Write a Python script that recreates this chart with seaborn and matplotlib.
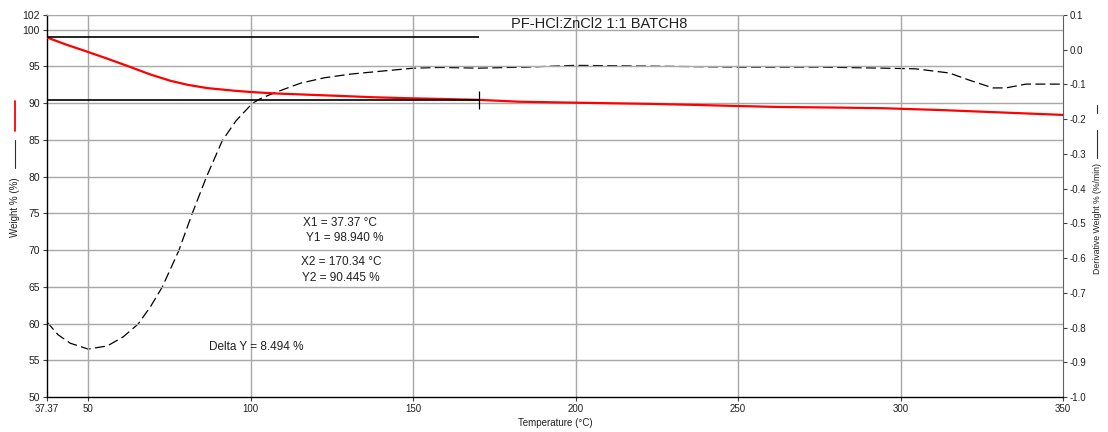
import numpy as np
import pandas as pd
import seaborn as sns
import matplotlib
matplotlib.use("Agg")
import matplotlib.pyplot as plt
from matplotlib.lines import Line2D

# TGA run: weight loss and its derivative against temperature
temp_w = [37.37, 43.4, 50, 56.8, 63, 69.2, 75.3, 80.6, 86.7, 94.8, 100, 107.1, 117.6, 127.8,
          138, 148.5, 158.7, 170.34, 182.4, 195, 223, 237, 249, 262.7, 280, 294.5, 311.8, 325, 350]
weight = [98.94, 97.95, 96.97, 95.92, 94.92, 93.9, 93.05, 92.5, 92.05, 91.7, 91.52, 91.33, 91.15,
          90.98, 90.8, 90.67, 90.57, 90.445, 90.2, 90.1, 89.9, 89.76, 89.62, 89.48, 89.4, 89.31,
          89.07, 88.84, 88.4]

temp_d = [37.37, 40.8, 44.5, 50, 55.9, 60.8, 65.4, 69.2, 72.8, 77.9, 82.0, 86.4, 91.3, 95.5,
          100.5, 103, 107.1, 111.4, 115.5, 122.6, 130.9, 141.1, 150.3, 158.7, 170, 185, 200, 220,
          250, 275, 294.5, 304.6, 315, 321, 328.4, 332.4, 338.6, 344, 350]
deriv = [-0.784, -0.821, -0.845, -0.862, -0.853, -0.827, -0.79, -0.74, -0.684, -0.579, -0.473,
         -0.367, -0.262, -0.205, -0.155, -0.141, -0.125, -0.11, -0.096, -0.081, -0.07, -0.061,
         -0.053, -0.051, -0.053, -0.05, -0.045, -0.047, -0.05, -0.05, -0.053, -0.055, -0.067,
         -0.087, -0.11, -0.11, -0.099, -0.099, -0.099]

# Step-analysis markers
X1, Y1 = 37.37, 98.940
X2, Y2 = 170.34, 90.445
DELTA_Y = 8.494

x_ticks = [37.37, 50, 100, 150, 200, 250, 300, 350]
x_tick_labels = ["37.37", "50", "100", "150", "200", "250", "300", "350"]
y_ticks = [50, 55, 60, 65, 70, 75, 80, 85, 90, 95, 100, 102]
d_ticks = [-1.0, -0.9, -0.8, -0.7, -0.6, -0.5, -0.4, -0.3, -0.2, -0.1, 0.0, 0.1]

sns.set_style("white")
plt.rcParams["font.family"] = ["Liberation Sans", "DejaVu Sans"]
plt.rcParams["axes.unicode_minus"] = False

W, H = 1108, 432
fig = plt.figure(figsize=(W / 100, H / 100), dpi=100)
L, R, T, B = 47, 1063, 15, 397
ax = fig.add_axes([L / W, 1 - B / H, (R - L) / W, (B - T) / H])
ax2 = ax.twinx()

grid_c = "#a8a8a8"
ax.set_xlim(37.37, 350)
ax.set_ylim(50, 102)
ax2.set_ylim(-1.0, 0.1)

for gx in [50, 100, 150, 200, 250, 300]:
    ax.axvline(gx, color=grid_c, lw=1.0, zorder=0)
for gy in y_ticks[1:]:
    ax.axhline(gy, color=grid_c, lw=1.0, zorder=0)

df_w = pd.DataFrame({"Temperature": temp_w, "Weight": weight})
df_d = pd.DataFrame({"Temperature": temp_d, "Deriv": deriv})

sns.lineplot(data=df_d, x="Temperature", y="Deriv", ax=ax2, color="black", lw=0.9,
             dashes=False, zorder=3)
ax2.lines[-1].set_dashes((8, 3.5))
sns.lineplot(data=df_w, x="Temperature", y="Weight", ax=ax, color="#ff0000", lw=1.6, zorder=4)

ax.hlines([Y1, Y2], X1, X2, color="black", lw=1.2, zorder=5)
ax.vlines(X2, Y2 - 1.25, Y2 + 1.25, color="black", lw=0.9, zorder=5)

ax.set_zorder(ax2.get_zorder() + 1)
ax.patch.set_visible(False)

ax.set_xticks(x_ticks)
ax.set_xticklabels(x_tick_labels)
ax.set_yticks(y_ticks)
ax.set_yticklabels([str(v) for v in y_ticks])
ax2.set_yticks(d_ticks)
ax2.set_yticklabels([f"{v:.1f}" for v in d_ticks])

for a in (ax, ax2):
    a.tick_params(labelsize=7, length=3, width=0.8, color="#404040", pad=2, labelcolor="#202020")
    a.set_xlabel("")
    a.set_ylabel("")
ax.tick_params(axis="y", labelsize=7.5)
ax.tick_params(axis="x", bottom=True)
ax.tick_params(axis="y", left=True)
ax2.tick_params(axis="y", right=True)

for s in ["left", "bottom"]:
    ax.spines[s].set_color("black")
    ax.spines[s].set_linewidth(1.0)
ax.spines["top"].set_color(grid_c)
ax.spines["right"].set_visible(False)
ax2.spines["right"].set_color("#606060")
for s in ["left", "top", "bottom"]:
    ax2.spines[s].set_visible(False)

def fx(px):
    return px / W

def fy(py):
    return 1 - py / H

fig.text(fx(599), fy(23.5), "PF-HCl:ZnCl2 1:1 BATCH8", fontsize=10.5, ha="center", va="center",
         color="#202020")
fig.text(fx(555), fy(423), "Temperature (°C)", fontsize=7, ha="center", va="center", color="#202020")

txt_kw = dict(fontsize=8.5, va="center", color="#202020")
fig.text(fx(303), fy(223), f"X1 = {X1:.2f} °C", ha="left", **txt_kw)
fig.text(fx(306), fy(238), f"Y1 = {Y1:.3f} %", ha="left", **txt_kw)
fig.text(fx(301), fy(262), f"X2 = {X2:.2f} °C", ha="left", **txt_kw)
fig.text(fx(302), fy(278), f"Y2 = {Y2:.3f} %", ha="left", **txt_kw)
fig.text(fx(209), fy(347), f"Delta Y = {DELTA_Y:.3f} %", ha="left", **txt_kw)

# Axis titles with their line keys
fig.text(fx(15), fy(207), "Weight % (%)", fontsize=7, rotation=90, ha="center", va="center",
         color="#202020")
fig.add_artist(Line2D([fx(15), fx(15)], [fy(140), fy(168)], color="#303030", lw=0.8))
fig.add_artist(Line2D([fx(15), fx(15)], [fy(101), fy(131)], color="#ff0000", lw=1.3))

fig.text(fx(1097), fy(218), "Derivative Weight % (%/min)", fontsize=6.3, rotation=90,
         ha="center", va="center", color="#202020")
fig.add_artist(Line2D([fx(1097), fx(1097)], [fy(130), fy(158)], color="#303030", lw=0.8))
fig.add_artist(Line2D([fx(1097), fx(1097)], [fy(105), fy(113)], color="#303030", lw=0.8))

fig.savefig("out.png", dpi=100, facecolor="white")
